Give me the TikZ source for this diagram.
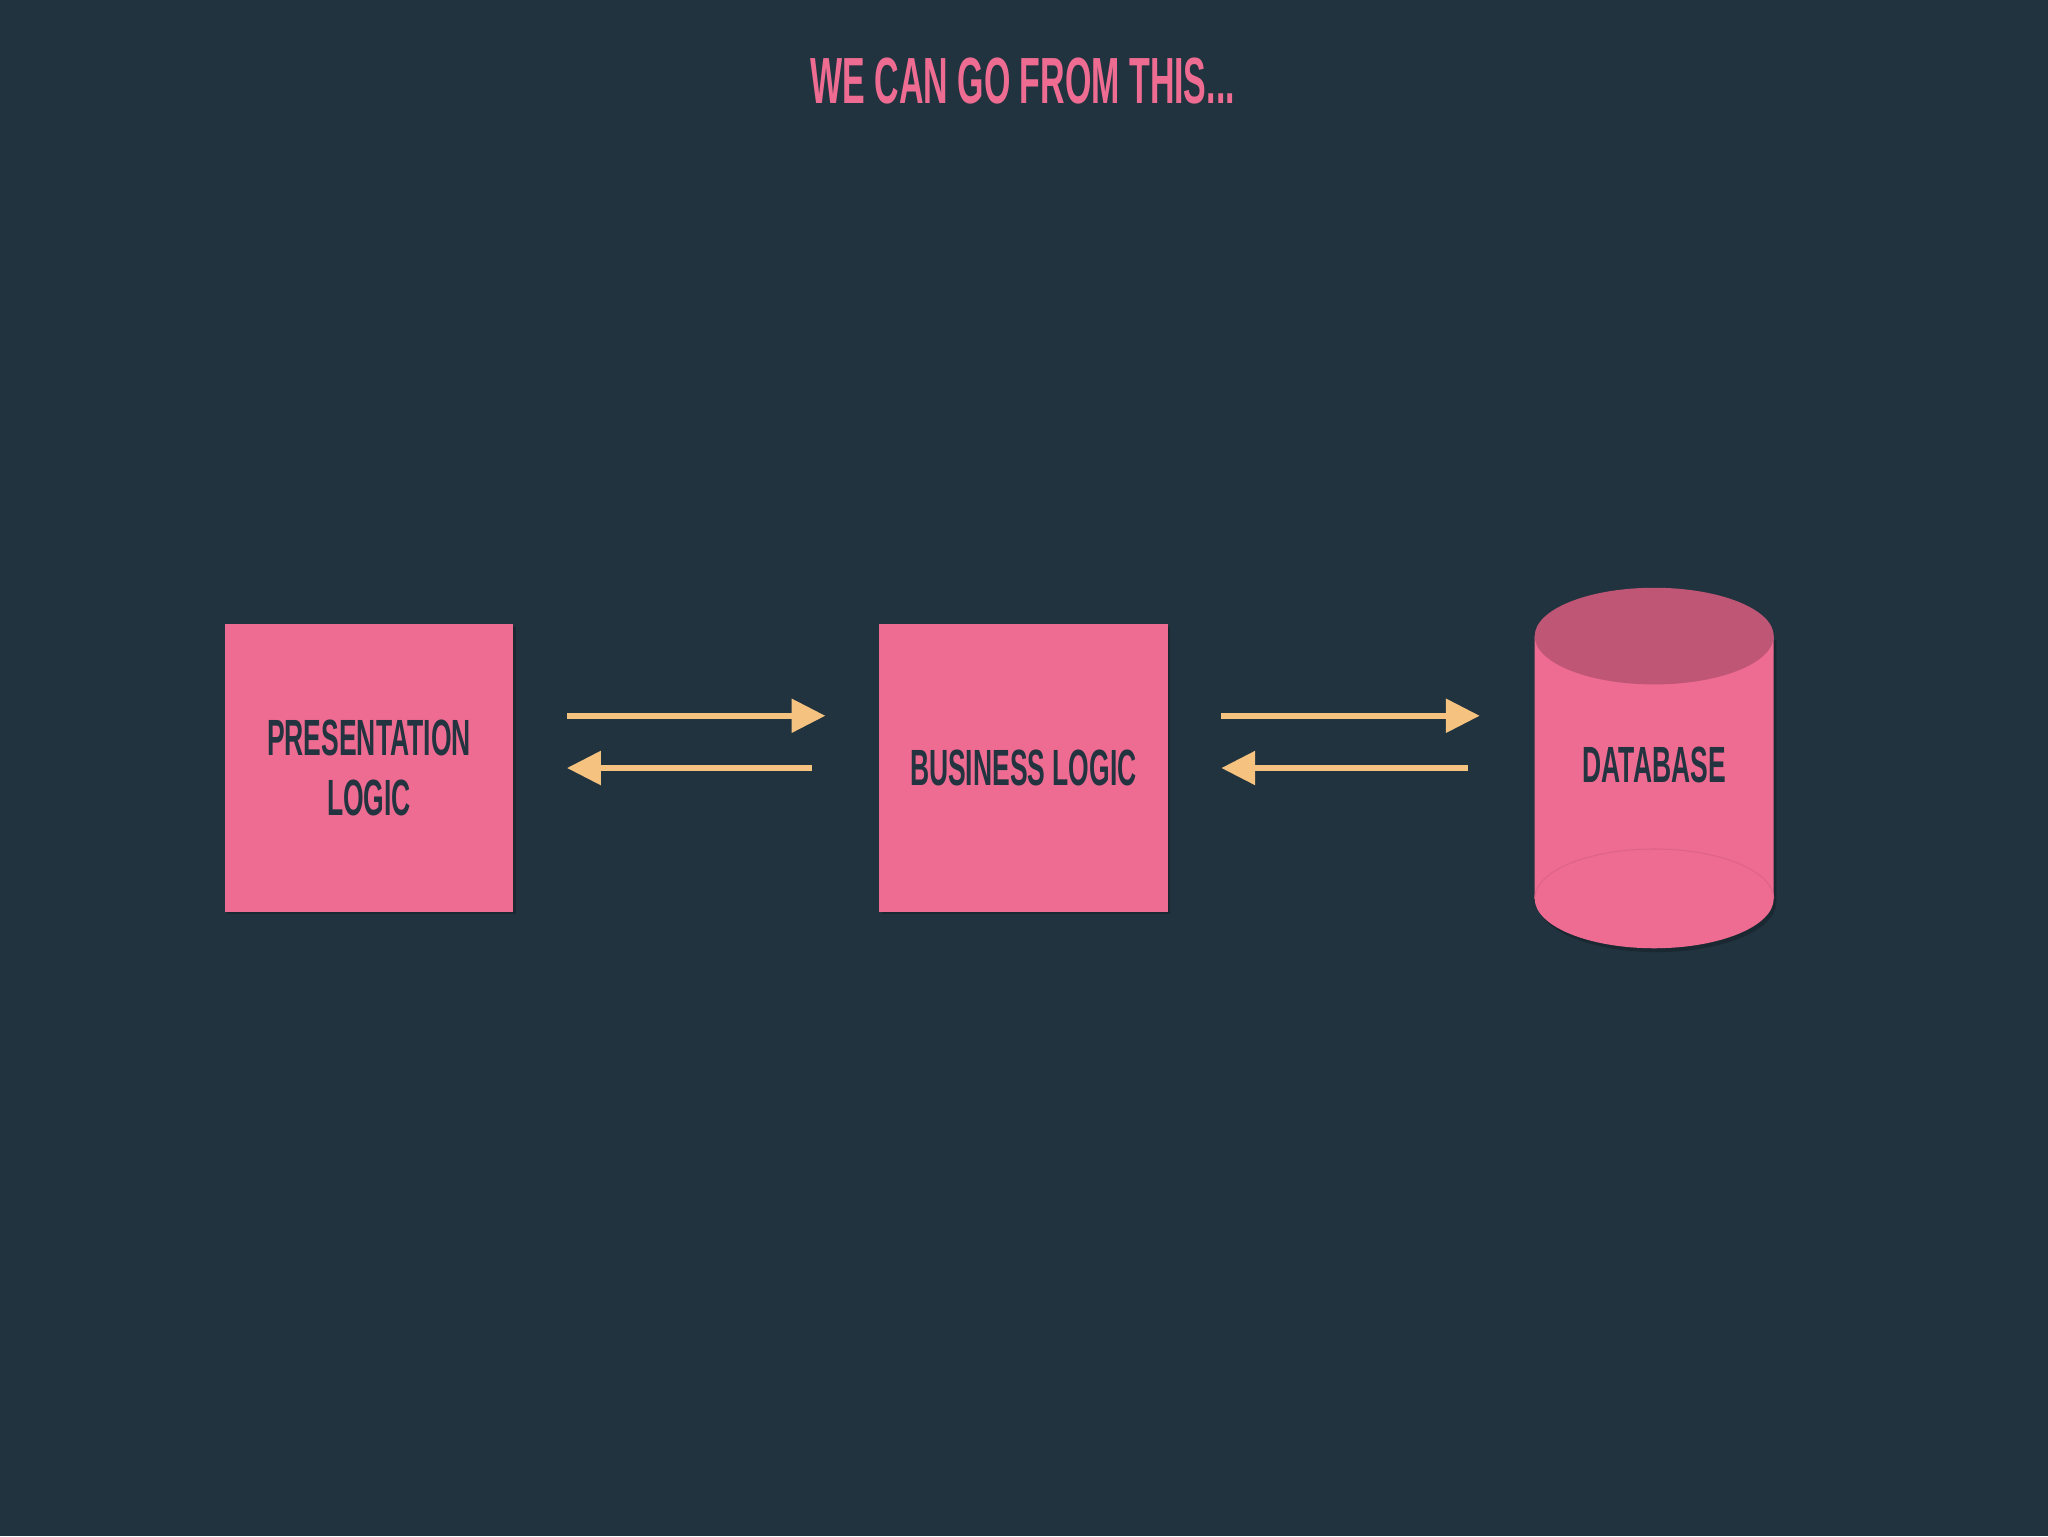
\documentclass[tikz,border=0pt]{standalone}
\usepackage{fontspec}
\setmainfont[FakeStretch=0.52]{Liberation Sans}
\usetikzlibrary{arrows.meta,shapes.geometric}
\definecolor{bg}{HTML}{21333F}
\definecolor{pink}{HTML}{EE6C91}
\definecolor{pinktop}{HTML}{BF5675}
\definecolor{ink}{HTML}{233440}
\definecolor{arr}{HTML}{F5C27F}
\tikzset{
 box/.style={fill=pink,minimum width=221pt,minimum height=220pt,inner sep=0pt,align=center,font=\fontsize{39}{46}\selectfont\bfseries,text=ink},
 flow/.style={draw=arr,line width=5pt,-{Triangle[length=26pt,width=25pt]}}
}
\begin{document}
\begin{tikzpicture}[x=1pt,y=-1pt]
\fill[bg] (0,0) rectangle (1568,1176);
\useasboundingbox (0,0) rectangle (1568,1176);
\node[font=\fontsize{50}{56}\selectfont\bfseries,text=pink] (title) at (783,62) {WE CAN GO FROM THIS...};
\fill[black,opacity=0.2] (174,480) rectangle (395,700);
\fill[black,opacity=0.2] (675,480) rectangle (896,700);
\node[box] (pres) at (282.5,588) {PRESENTATION\\LOGIC};
\node[box] (bus) at (783.5,588) {BUSINESS LOGIC};
% cylinder
\fill[black,opacity=0.2] (1177,490) -- (1177,691) arc[start angle=180,end angle=0,x radius=91.5,y radius=38] -- (1360,490) -- cycle;
\fill[pink] (1175,487) -- (1175,688) arc[start angle=180,end angle=0,x radius=91.5,y radius=38] -- (1358,487) -- cycle;
\draw[pinktop!35!pink,line width=0.8pt] (1175,688) arc[start angle=180,end angle=360,x radius=91.5,y radius=38];
\fill[pinktop] (1266.5,487) ellipse[x radius=91.5,y radius=37];
\node[font=\fontsize{39}{46}\selectfont\bfseries,text=ink] (db) at (1266.5,586) {DATABASE};
\coordinate (a1s) at (434,548); \coordinate (a1e) at (632,548);
\coordinate (a2s) at (622,588); \coordinate (a2e) at (434,588);
\coordinate (b1s) at (935,548); \coordinate (b1e) at (1133,548);
\coordinate (b2s) at (1124,588); \coordinate (b2e) at (935,588);
\draw[flow] (a1s) -- (a1e);
\draw[flow] (a2s) -- (a2e);
\draw[flow] (b1s) -- (b1e);
\draw[flow] (b2s) -- (b2e);
\end{tikzpicture}
\end{document}
